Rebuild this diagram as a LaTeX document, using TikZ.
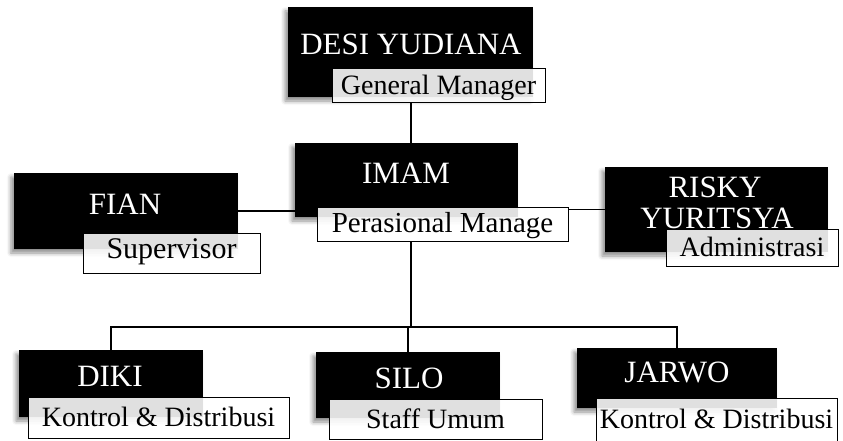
\documentclass[tikz,border=0pt]{standalone}
\usepackage{fontspec}
\setmainfont{Liberation Serif}
\usetikzlibrary{shadows.blur}
\begin{document}
\begin{tikzpicture}[x=1pt,y=-1pt,
  namebox/.style={fill=black, draw=none, inner sep=0pt,
    blur shadow={shadow xshift=-3pt, shadow yshift=-4pt, shadow blur radius=4pt, shadow opacity=45}},
  nametext/.style={text=white, font=\fontsize{31}{31}\selectfont, anchor=base, inner sep=0pt},
  rolebox/.style={draw=black, line width=0.8pt, fill=white, fill opacity=0.88, text opacity=1,
    inner sep=0pt, font=\fontsize{28}{28}\selectfont, text height=18.5pt, text depth=0pt},
  conn/.style={draw=black, line width=1.2pt}]
\useasboundingbox (0,0) rectangle (843,441);

% boxes
\node[namebox, minimum width=245pt, minimum height=90pt] (desibox) at (410.5,52) {};
\node[nametext] (desiname) at (411,55) {DESI YUDIANA};
\node[rolebox, minimum width=213pt, minimum height=34pt] (desirole) at (438.5,85) {General Manager};

\node[namebox, minimum width=223pt, minimum height=74pt] (imambox) at (406.5,180) {};
\node[nametext] (imamname) at (406,183) {IMAM};
\node[rolebox, minimum width=251pt, minimum height=34pt, font=\fontsize{29}{29}\selectfont, text height=19.2pt, text depth=3pt] (imamrole) at (442.5,224) {Perasional Manage};

\node[namebox, minimum width=224pt, minimum height=76pt] (fianbox) at (126,211) {};
\node[nametext] (fianname) at (125,214) {FIAN};
\node[rolebox, minimum width=177pt, minimum height=40pt, font=\fontsize{30}{30}\selectfont, text height=19.9pt, text depth=9pt] (fianrole) at (171.5,253) {Supervisor};

\node[namebox, minimum width=223pt, minimum height=85pt] (riskybox) at (716.5,209.5) {};
\node[nametext] (riskyname) at (715,197) {RISKY};
\node[nametext] (riskyname2) at (717,228) {YURITSYA};
\node[rolebox, minimum width=172pt, minimum height=37pt] (riskyrole) at (752,247.5) {Administrasi};

\node[namebox, minimum width=184pt, minimum height=67pt] (dikibox) at (111,383.5) {};
\node[nametext] (dikiname) at (110,386) {DIKI};
\node[rolebox, minimum width=261pt, minimum height=41pt] (dikirole) at (158.5,417.5) {Kontrol \& Distribusi};

\node[namebox, minimum width=184pt, minimum height=66pt] (silobox) at (408,385) {};
\node[nametext] (siloname) at (409,388) {SILO};
\node[rolebox, minimum width=213pt, minimum height=40pt] (silorole) at (435.5,419) {Staff Umum};

\node[namebox, minimum width=200pt, minimum height=60pt] (jarwobox) at (677,378) {};
\node[nametext] (jarwoname) at (677,382) {JARWO};
\node[rolebox, minimum width=241pt, minimum height=48pt, text depth=6pt] (jarworole) at (716.5,422) {Kontrol \& Distribusi};

% connectors
\coordinate (trunk) at (411,327);
\draw[conn] (desirole.south -| trunk) -- (imambox.north -| trunk);
\draw[conn] (fianbox.east) -- (fianbox.east -| imambox.west);
\draw[conn] (riskybox.west -| imamrole.east) -- (riskybox.west);
\draw[conn] (imamrole.south -| trunk) -- (trunk);
\draw[conn] (dikibox.north) |- (trunk);
\draw[conn] (jarwobox.north) |- (trunk);
\draw[conn] (silobox.north) -- (silobox.north |- trunk);
\end{tikzpicture}
\end{document}
